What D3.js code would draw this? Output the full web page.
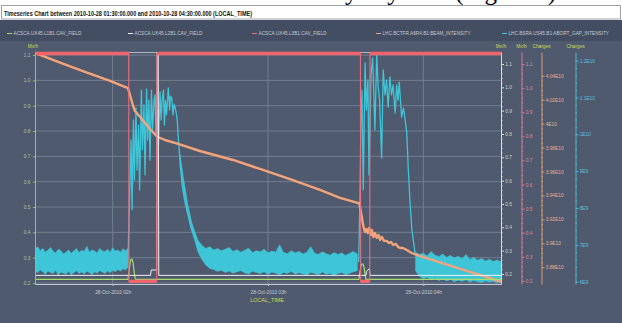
<!DOCTYPE html>
<html>
<head>
<meta charset="utf-8">
<script src="https://cdn.jsdelivr.net/npm/d3@7"></script>
<style>
  html, body { margin: 0; padding: 0; background: #fff; }
  svg { display: block; }
  text { font-family: 'Liberation Sans', Arial, sans-serif; }
</style>
</head>
<body>
<div class="timber-chart"></div>
<script>
// times are minutes after 2010-10-28 01:30 (LOCAL_TIME)
const seriesNames = [
  'ACSCA.UX45.L1B1.CAV_FIELD',
  'ACSCA.UX45.L2B1.CAV_FIELD',
  'ACSCA.UX45.L3B1.CAV_FIELD',
  'LHC.BCTFR.A6R4.B1:BEAM_INTENSITY',
  'LHC.BSRA.US45.B1:ABORT_GAP_INTENSITY'
];
const seriesColors = ['#a8dc6c', '#eef0f2', '#e8707e', '#f4a47a', '#3ec5d7'];

const hourTicks = [30, 90, 150];                       // 02h, 03h, 04h
const mxhTicks = [0.2, 0.3, 0.4, 0.5, 0.6, 0.7, 0.8, 0.9, 1.0, 1.1];
const bctTicks = [3.88, 3.90, 3.92, 3.94, 3.96, 3.98, 4.00, 4.02, 4.04];   // x1E10 charges
const bsraTicks = [6, 7, 8, 9, 10, 11, 12];                              // x1E9 charges

// L1B1 cavity field (left Mx/h axis)
const l1b1T = [0, 35.9, 36.3, 36.7, 37.1, 37.5, 37.9, 38.2, 38.6, 38.9, 125.1, 125.5, 125.9, 126.3, 126.7, 127.1, 127.5, 127.8, 180];
const l1b1V = [0.214, 0.214, 0.243, 0.279, 0.293, 0.293, 0.279, 0.251, 0.222, 0.214, 0.214, 0.243, 0.267, 0.275, 0.275, 0.263, 0.232, 0.214, 0.214];

// L2B1 cavity field (first right Mx/h axis)
const l2b1T = [0, 44.6, 44.9, 47.0, 47.2, 47.6, 47.8, 127.9, 128.0, 129.2, 129.4, 180];
const l2b1V = [0.194, 0.194, 0.217, 0.217, 1.149, 1.149, 0.194, 0.194, 0.211, 0.223, 0.194, 0.194];

// L3B1 cavity field (pink Mx/h axis)
const l3b1T = [0, 36.2, 36.3, 47.0, 47.1, 125.7, 125.8, 129.3, 129.4, 180];
const l3b1V = [1.144, 1.144, 0.198, 0.198, 1.144, 1.144, 0.198, 0.198, 1.144, 1.144];

// BCT beam intensity, x1E10 charges
const bctT = [0, 9.7, 19.3, 29.0, 35.9, 36.7, 37.9, 38.6, 40.6, 42.5, 44.4, 47.1, 50.2, 54.7, 63.7, 76.5, 86.9, 98.5, 110.1, 117.8,
  125.3, 125.9, 126.6, 127.1, 127.5, 128.0, 128.6, 129.1, 129.7, 130.1, 130.7, 131.3, 132.0, 132.7, 133.3, 134.0, 134.8, 135.8,
  136.7, 137.5, 138.4, 139.4, 140.2, 141.0, 142.1, 143.6, 145.5, 147.4, 156.4, 168.0, 180];
const bctV = [4.0590, 4.0510, 4.0431, 4.0356, 4.0297, 4.0239, 4.0147, 4.0105, 4.0055, 4.0005, 3.9955, 3.9892, 3.9863, 3.9835,
  3.9771, 3.9696, 3.9621, 3.9537, 3.9446, 3.9379, 3.9333, 3.9262, 3.9170, 3.9120, 3.9095, 3.9120, 3.9086, 3.9128, 3.9070,
  3.9111, 3.9053, 3.9086, 3.9045, 3.9070, 3.9028, 3.9053, 3.9020, 3.9020, 3.9003, 3.9011, 3.8986, 3.8995, 3.8970, 3.8961,
  3.8961, 3.8944, 3.8919, 3.8903, 3.8840, 3.8761, 3.8681];

// BSRA abort gap intensity, x1E9 charges: noisy baseline as min/max envelope (null = gap)
const bsraBandT = [0, 1, 2, 3, 4, 5, 6, 7, 8, 9, 10, 11, 12, 13, 14, 15, 16, 17, 18, 19, 20, 21, 22, 23, 24, 25, 26, 27, 28, 29,
  30, 31, 32, 33, 34, 35, 35.9, 36,
  56, 57.5, 59, 60.5, 62, 63, 64.5, 66, 67.5, 69, 70.5, 72, 73.5, 75, 76.5, 78, 79.5, 81, 82.5, 84, 85.5, 87, 88.5, 90, 91.5,
  93, 94.5, 96, 97.5, 99, 100.5, 102, 103.5, 105, 106.5, 108, 109.5, 111, 112.5, 114, 115.5, 117, 118.5, 120, 121.5, 123, 124.5, 125,
  147, 148.5, 150, 151.5, 153, 154.5, 156, 157.5, 159, 160.5, 162, 163.5, 165, 166.5, 168, 169.5, 171, 172.5, 174, 175.5, 177, 178.5, 180];
const bsraBandHi = [6.88, 6.95, 6.84, 6.90, 6.80, 6.86, 6.93, 6.82, 6.78, 6.88, 6.84, 6.75, 6.80, 6.86, 6.77, 6.83, 6.90, 6.79,
  6.85, 6.82, 6.96, 6.80, 6.86, 6.83, 6.78, 6.90, 6.84, 6.81, 6.88, 6.79, 6.92, 6.83, 6.86, 6.80, 6.89, 6.84, 6.90, null,
  9.45, 8.75, 8.10, 7.62, 7.30, 7.12, 6.98, 6.90, 6.95, 6.86, 6.90, 6.84, 6.88, 6.93, 6.82, 6.87, 6.80, 6.85, 6.91, 6.79, 6.84,
  6.81, 6.88, 6.78, 6.83, 6.80, 7.00, 6.79, 6.76, 6.84, 6.78, 6.82, 6.75, 6.80, 6.95, 6.77, 6.74, 6.81, 6.76, 6.72, 6.79, 6.74,
  6.78, 6.71, 6.77, 6.82, 6.75, null,
  6.80, 6.74, 6.77, 6.70, 6.82, 6.72, 6.68, 6.75, 6.66, 6.71, 6.64, 6.69, 6.62, 6.74, 6.60, 6.66, 6.58, 6.63, 6.56, 6.61, 6.55, 6.59, 6.54];
const bsraBandLo = [6.30, 6.24, 6.32, 6.27, 6.20, 6.29, 6.25, 6.22, 6.31, 6.18, 6.26, 6.23, 6.20, 6.28, 6.19, 6.24, 6.30, 6.22,
  6.26, 6.21, 6.28, 6.25, 6.19, 6.27, 6.23, 6.30, 6.26, 6.22, 6.29, 6.24, 6.31, 6.27, 6.33, 6.29, 6.35, 6.32, 6.40, null,
  9.15, 8.45, 7.85, 7.40, 7.05, 6.80, 6.60, 6.45, 6.36, 6.33, 6.28, 6.31, 6.25, 6.29, 6.23, 6.27, 6.30, 6.24, 6.21, 6.28, 6.25,
  6.22, 6.27, 6.20, 6.26, 6.23, 6.19, 6.25, 6.22, 6.28, 6.20, 6.24, 6.21, 6.18, 6.25, 6.22, 6.19, 6.26, 6.20, 6.23, 6.17, 6.22,
  6.25, 6.19, 6.23, 6.27, 6.30, null,
  6.30, 6.15, 6.08, 6.12, 6.05, 6.09, 6.03, 6.07, 6.02, 6.06, 6.00, 6.04, 6.01, 6.05, 5.99, 6.03, 6.00, 5.98, 6.02, 5.99, 6.01, 5.97, 6.00];

// BSRA during the two quench/recovery events (x1E9 charges)
const bsraEvent1T = [35.9, 36.5, 37.1, 37.5, 38.0, 38.4, 39.0, 39.4, 40.0, 40.4, 41.1, 41.5, 42.1, 42.5, 43.1, 43.5, 44.0, 44.4,
  45.0, 45.4, 46.0, 46.4, 46.7, 47.3, 47.7, 48.3, 48.7, 49.1, 49.6, 50.0, 50.4, 50.8, 51.5, 52.0, 52.3, 52.8, 53.3, 53.7, 54.1,
  54.7, 55.0, 55.4, 56.0, 56.8, 57.9, 59.1, 60.3, 61.8, 63.7];
const bsraEvent1V = [6.53, 8.22, 9.85, 7.95, 10.39, 8.76, 10.72, 9.03, 10.25, 8.49, 11.20, 9.58, 10.80, 8.90, 11.23, 9.85, 10.93,
  9.30, 11.20, 10.12, 10.93, 11.07, 9.98, 10.66, 9.71, 11.15, 10.39, 10.93, 11.20, 10.25, 10.93, 10.53, 11.26, 10.66, 11.04,
  10.99, 10.53, 10.82, 10.74, 10.53, 10.31, 9.85, 9.30, 8.63, 8.16, 7.81, 7.46, 7.19, 7.00];
const bsraEvent2T = [125.0, 125.5, 125.9, 126.3, 126.8, 127.5, 128.0, 128.6, 129.0, 129.8, 130.4, 130.9, 131.3, 132.0, 132.5,
  133.1, 133.9, 134.5, 135.2, 135.8, 136.4, 137.1, 137.7, 138.3, 139.1, 139.7, 140.2, 140.7, 141.6, 142.3, 142.9, 143.6, 144.2,
  144.8, 145.6, 146.8];
const bsraEvent2V = [6.53, 8.22, 10.39, 11.20, 8.49, 11.94, 10.66, 11.48, 8.90, 11.61, 12.07, 11.07, 10.12, 12.21, 11.34, 10.93,
  9.36, 11.75, 11.07, 11.48, 10.74, 11.56, 11.07, 11.34, 10.58, 11.34, 10.93, 11.42, 10.47, 10.72, 10.44, 10.04, 9.03, 8.22,
  7.40, 6.78];

const W = 622, H = 323;
const plot = {left: 35, right: 501, top: 52, bottom: 284};
const t0 = new Date(2010, 9, 28, 1, 30);
const toDate = m => new Date(t0.getTime() + m * 60000);
const zip = (ts, vs) => ts.map((t, i) => ({t: t, v: vs[i]}));

const x = d3.scaleTime().domain([t0, toDate(180)]).range([plot.left, plot.right]);
const yL1 = d3.scaleLinear().domain([0.196, 1.112]).range([plot.bottom, plot.top]);
const yL2 = d3.scaleLinear().domain([0.157, 1.1514]).range([plot.bottom, plot.top]);
const yL3 = d3.scaleLinear().domain([0.187, 1.150]).range([plot.bottom, plot.top]);
const yBct = d3.scaleLinear().domain([3.866, 4.0598]).range([plot.bottom, plot.top]);
const yBsra = d3.scaleLinear().domain([5.937, 12.236]).range([plot.bottom, plot.top]);

const svg = d3.select('.timber-chart').append('svg')
  .attr('width', W).attr('height', H);

// cut-off line of the surrounding document
svg.append('text')
  .attr('x', 556).attr('y', -0.5)
  .attr('text-anchor', 'end')
  .style('font-family', "'Liberation Serif', 'Times New Roman', serif")
  .style('font-size', '25px')
  .text('recorded every day here (Figure 1)');

// title bar
svg.append('rect')
  .attr('x', 1.5).attr('y', 5.5).attr('width', 619).attr('height', 13.5)
  .style('fill', '#fff').style('stroke', '#9aa0a8');
svg.append('text')
  .attr('x', 4).attr('y', 15.6)
  .attr('textLength', 248).attr('lengthAdjust', 'spacingAndGlyphs')
  .style('font-size', '8px').style('font-weight', 'bold').style('fill', '#111')
  .text('Timeseries Chart between 2010-10-28 01:30:00.000 and 2010-10-28 04:30:00.000 (LOCAL_TIME)');

// panels
svg.append('rect').attr('x', 0).attr('y', 20).attr('width', W).attr('height', H - 20).style('fill', '#4f5a6e');
svg.append('rect').attr('x', 0).attr('y', 20).attr('width', W).attr('height', 21).style('fill', '#434e62');

// legend
const legendX = [7, 128, 252, 376, 502];
const legend = svg.append('g').attr('class', 'legend');
seriesNames.forEach((name, i) => {
  legend.append('line')
    .attr('x1', legendX[i]).attr('x2', legendX[i] + 5)
    .attr('y1', 33.5).attr('y2', 33.5)
    .style('stroke', seriesColors[i]).style('stroke-width', 1);
  legend.append('text')
    .attr('x', legendX[i] + 6.5).attr('y', 35.2)
    .style('font-size', '4.7px').style('fill', '#c3cad4')
    .text(name);
});

// grid
const grid = svg.append('g').attr('class', 'grid');
grid.selectAll('.hgrid').data(mxhTicks).enter().append('line')
  .attr('x1', plot.left).attr('x2', plot.right)
  .attr('y1', d => yL1(d)).attr('y2', d => yL1(d))
  .style('stroke', '#7c8799').style('stroke-width', 0.8);
grid.selectAll('.vgrid').data(hourTicks).enter().append('line')
  .attr('x1', d => x(toDate(d))).attr('x2', d => x(toDate(d)))
  .attr('y1', plot.top).attr('y2', plot.bottom)
  .style('stroke', '#7c8799').style('stroke-width', 0.8);

// frame top
svg.append('line')
  .attr('x1', plot.left).attr('x2', plot.right).attr('y1', plot.top + 0.5).attr('y2', plot.top + 0.5)
  .style('stroke', '#aeb6c4').style('stroke-width', 1);

svg.append('clipPath').attr('id', 'plotClip').append('rect')
  .attr('x', plot.left).attr('y', plot.top - 2)
  .attr('width', plot.right - plot.left).attr('height', plot.bottom - plot.top + 2);
const series = svg.append('g').attr('clip-path', 'url(#plotClip)');

// BSRA abort gap intensity
const bandData = bsraBandT.map((t, i) => ({t: t, hi: bsraBandHi[i], lo: bsraBandLo[i]}));
series.append('path')
  .datum(bandData)
  .attr('d', d3.area()
    .defined(d => d.hi != null)
    .x(d => x(toDate(d.t)))
    .y0(d => yBsra(d.lo))
    .y1(d => yBsra(d.hi)))
  .style('fill', seriesColors[4]).style('stroke', seriesColors[4]).style('stroke-width', 0.6);
const bsraLine = d3.line().x(d => x(toDate(d.t))).y(d => yBsra(d.v));
[zip(bsraEvent1T, bsraEvent1V), zip(bsraEvent2T, bsraEvent2V)].forEach(ev => {
  series.append('path').datum(ev).attr('d', bsraLine)
    .style('fill', 'none').style('stroke', seriesColors[4]).style('stroke-width', 1.3)
    .style('stroke-linejoin', 'round');
});

// BCT beam intensity
series.append('path')
  .datum(zip(bctT, bctV))
  .attr('d', d3.line().x(d => x(toDate(d.t))).y(d => yBct(d.v)))
  .style('fill', 'none').style('stroke', seriesColors[3]).style('stroke-width', 2.4)
  .style('stroke-linejoin', 'round');

// L1B1 and L2B1 cavity fields
series.append('path')
  .datum(zip(l1b1T, l1b1V))
  .attr('d', d3.line().x(d => x(toDate(d.t))).y(d => yL1(d.v)))
  .style('fill', 'none').style('stroke', seriesColors[0]).style('stroke-width', 1.2);
series.append('path')
  .datum(zip(l2b1T, l2b1V))
  .attr('d', d3.line().x(d => x(toDate(d.t))).y(d => yL2(d.v)))
  .style('fill', 'none').style('stroke', seriesColors[1]).style('stroke-width', 1);

// L3B1 cavity field: thin transitions, thick levels
const l3b1 = zip(l3b1T, l3b1V);
const l3Line = d3.line().x(d => x(toDate(d.t))).y(d => yL3(d.v));
series.append('path').datum(l3b1).attr('d', l3Line)
  .style('fill', 'none').style('stroke', seriesColors[2]).style('stroke-width', 1.1);
const runs = [];
l3b1.forEach((d, i) => {
  if (i === 0 || Math.abs(d.v - l3b1[i - 1].v) > 0.5) runs.push([]);
  runs[runs.length - 1].push(d);
});
series.selectAll('.l3run').data(runs).enter().append('path')
  .attr('d', l3Line)
  .style('fill', 'none').style('stroke', '#f0646c').style('stroke-width', 3.4);

// axes
function styleAxis(g, lineColor, textColor) {
  g.select('.domain').style('stroke', lineColor).style('stroke-width', 1);
  g.selectAll('.tick line').style('stroke', lineColor);
  g.selectAll('.tick text').style('fill', textColor).style('font-size', '4.8px')
    .style('font-family', "'Liberation Sans', Arial, sans-serif");
}
function minorTicks(ticks) {
  const out = [];
  for (let i = 0; i < ticks.length - 1; i++) {
    const step = (ticks[i + 1] - ticks[i]) / 5;
    for (let k = 1; k < 5; k++) out.push(ticks[i] + k * step);
  }
  return out;
}
function rightAxis(scale, xPos, ticks, fmt, lineColor, textColor) {
  const g = svg.append('g').attr('transform', `translate(${xPos},0)`);
  g.call(d3.axisRight(scale).tickValues(minorTicks(ticks)).tickFormat('').tickSize(1.5).tickSizeOuter(0));
  styleAxis(g, lineColor, textColor);
  const gm = svg.append('g').attr('transform', `translate(${xPos},0)`);
  gm.call(d3.axisRight(scale).tickValues(ticks).tickFormat(fmt).tickSize(3).tickPadding(1.2).tickSizeOuter(0));
  gm.select('.domain').remove();
  styleAxis(gm, lineColor, textColor);
}

const fmt1 = d3.format('.1f');
const fmtE10 = d => (+d.toFixed(2)) + 'E10';
const fmtBsra = d => d >= 10 ? (+(d / 10).toFixed(2)) + 'E10' : d + 'E9';

const gl = svg.append('g').attr('transform', `translate(${plot.left},0)`);
gl.call(d3.axisLeft(yL1).tickValues(mxhTicks).tickFormat(fmt1).tickSize(2).tickPadding(2.5).tickSizeOuter(0));
styleAxis(gl, '#8cc46c', '#a9c4a2');

rightAxis(yL2, plot.right, mxhTicks, fmt1, '#d6e4bc', '#cdd6c6');
rightAxis(yL3, 521.5, mxhTicks, fmt1, '#d27a92', '#d98ba0');
rightAxis(yBct, 541.5, bctTicks, fmtE10, '#d99a74', '#e3b292');
rightAxis(yBsra, 575.5, bsraTicks, fmtBsra, '#4fb8d0', '#5cc2d6');

// axis titles
const axisTitles = [[33, 'Mx/h'], [501, 'Mx/h'], [521.5, 'Mx/h'], [541.5, 'Charges'], [575.5, 'Charges']];
svg.selectAll('.axis-title').data(axisTitles).enter().append('text')
  .attr('x', d => d[0]).attr('y', 48.3)
  .attr('text-anchor', 'middle')
  .style('font-size', '4.8px').style('fill', '#c9dc55')
  .text(d => d[1]);

// time axis
const gx = svg.append('g').attr('transform', `translate(0,${plot.bottom})`);
gx.call(d3.axisBottom(x).tickValues(hourTicks.map(toDate))
  .tickFormat(d3.timeFormat('%d-%b-%Y %Hh')).tickSize(2).tickPadding(4.5).tickSizeOuter(0));
styleAxis(gx, '#c4cad4', '#c6ccd4');
svg.append('text')
  .attr('x', 267).attr('y', 302)
  .attr('text-anchor', 'middle')
  .style('font-size', '5.4px').style('fill', '#c9dc55')
  .text('LOCAL_TIME');
</script>
</body>
</html>
